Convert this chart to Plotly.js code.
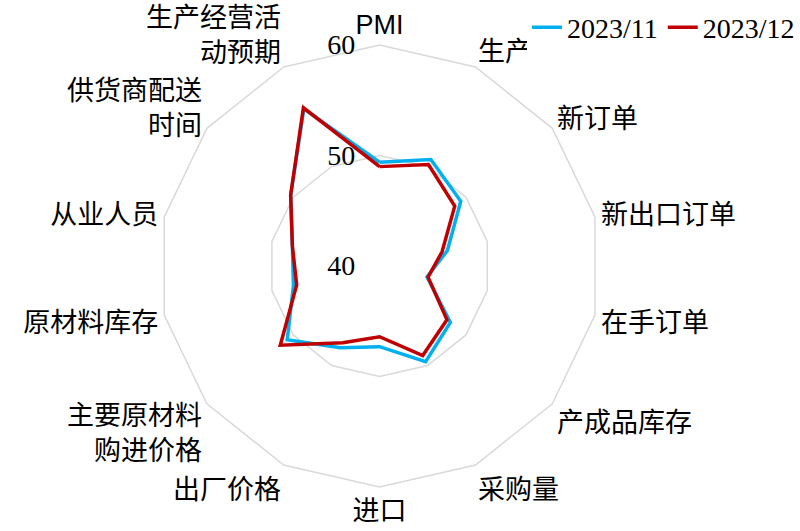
<!DOCTYPE html>
<html><head><meta charset="utf-8">
<script src="https://cdn.plot.ly/plotly-3.0.1.min.js"></script>
<style>html,body{margin:0;padding:0;background:#fff}#chart{width:800px;height:531px}</style>
</head><body><div id="chart"></div>
<script>
const categories = ['PMI','生产','新订单','新出口订单','在手订单','产成品库存','采购量','进口','出厂价格','主要原材料购进价格','原材料库存','从业人员','供货商配送时间','生产经营活动预期'];
const tickLabels = ['<span style="font-family:Liberation Sans">PMI</span>','生产','新订单','新出口订单','在手订单','产成品库存','采购量','进口','出厂价格','主要原材料<br>购进价格','原材料库存','从业人员','供货商配送<br>时间','生产经营活<br>动预期'];
const nov2023 = [49.4,50.7,49.4,46.3,44.4,48.2,49.6,47.3,48.2,50.7,48.0,48.1,50.3,55.8];
const dec2023 = [49.0,50.2,48.7,45.8,44.5,47.8,49.0,46.4,47.7,51.5,47.7,48.1,50.3,55.9];
const seriesNames = ['2023/11','2023/12'];
const radialTicks = [40,50,60];

function closeLoop(a){ return a.concat([a[0]]); }

const data = [
  {type:'scatterpolar', mode:'lines', name:seriesNames[0], r:closeLoop(nov2023), theta:closeLoop(categories),
   line:{color:'#00b0f0', width:3.5}},
  {type:'scatterpolar', mode:'lines', name:seriesNames[1], r:closeLoop(dec2023), theta:closeLoop(categories),
   line:{color:'#c00000', width:3.5}}
];
const CJK = '"Liberation Serif", "Noto Sans CJK SC", serif';
const layout = {
  width:800, height:531,
  margin:{l:0,r:0,t:0,b:0},
  paper_bgcolor:'#fff', plot_bgcolor:'#fff',
  showlegend:true,
  legend:{orientation:'h', x:1.0, xanchor:'right', y:0.948, yanchor:'middle',
          font:{family:'"Liberation Serif", serif', size:28, color:'#000'}, itemwidth:30, tracegroupgap:0},
  polar:{
    domain:{x:[0.198,0.751], y:[0.083,0.915]},
    gridshape:'linear',
    bgcolor:'#fff',
    angularaxis:{type:'category', rotation:90, direction:'clockwise', showgrid:false,
      tickmode:'array', tickvals:categories, ticktext:tickLabels,
      showline:true, linecolor:'#d9d9d9', linewidth:1.5, ticks:'',
      tickfont:{family:CJK, size:27, color:'#000'}},
    radialaxis:{range:[40,60], tickvals:radialTicks, angle:90, side:'counterclockwise', tickangle:90,
      showline:false, gridcolor:'#d9d9d9', gridwidth:1.5, ticks:'outside', ticklen:14, tickcolor:'rgba(0,0,0,0)',
      tickfont:{family:'"Liberation Serif", serif', size:28, color:'#000'}}
  }
};
Plotly.newPlot('chart', data, layout, {displayModeBar:false, staticPlot:true});
</script></body></html>
